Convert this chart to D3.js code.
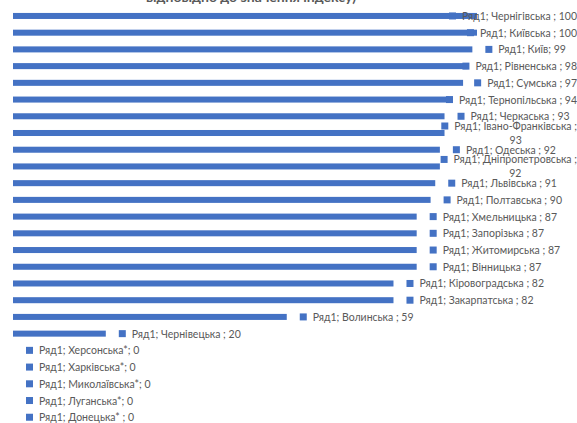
<!DOCTYPE html>
<html>
<head>
<meta charset="utf-8">
<script src="https://cdn.jsdelivr.net/npm/d3@7"></script>
<style>
  body { margin: 0; background: #fff; }
  text { font-family: Lato, "Open Sans", sans-serif; }
</style>
</head>
<body>
<svg id="chart" width="577" height="423"></svg>
<script>
// regions, top to bottom
const regions = ["Чернігівська", "Київська", "Київ", "Рівненська", "Сумська", "Тернопільська",
  "Черкаська", "Івано-Франківська", "Одеська", "Дніпропетровська", "Львівська", "Полтавська",
  "Хмельницька", "Запорізька", "Житомирська", "Вінницька", "Кіровоградська", "Закарпатська",
  "Волинська", "Чернівецька", "Херсонська*", "Харківська*", "Миколаївська*", "Луганська*", "Донецька*"]
const values = [100, 100, 99, 98, 97, 94, 93, 93, 92, 92, 91, 90, 87, 87, 87, 87, 82, 82, 59, 20, 0, 0, 0, 0, 0]
// separator before the value, as written in the labels
const seps = [" ; ", " ; ", "; ", " ; ", " ; ", " ; ", " ; ", " ; ", " ; ", " ; ", " ; ", " ; ",
  " ; ", " ; ", " ; ", " ; ", " ; ", " ; ", " ; ", " ; ", "; ", "; ", "; ", "; ", " ; "]
const seriesName = "Ряд1"
const title = "відповідно до значення індексу)"

const W = 577, H = 423
const blue = "#4472C4", grey = "#595959"

const svg = d3.select("#chart")

const x = d3.scaleLinear().domain([0, 100]).range([13, 477])
const y = d3.scaleBand().domain(regions).range([7.6, 425.6])
  .paddingInner(0.64).paddingOuter(0.32)

svg.append("text")
  .attr("x", 251).attr("y", 2)
  .attr("text-anchor", "middle")
  .attr("font-size", 14).attr("font-weight", "bold")
  .attr("fill", grey)
  .text(title)

svg.selectAll("rect.bar")
  .data(regions).enter().append("rect")
  .attr("class", "bar")
  .attr("x", x(0))
  .attr("y", d => y(d))
  .attr("height", y.bandwidth())
  .attr("width", (d, i) => x(values[i]) - x(0))
  .attr("fill", blue)

// data labels with legend key
const lab = svg.selectAll("g.lab")
  .data(regions).enter().append("g").attr("class", "lab")

lab.each(function(d, i) {
  const g = d3.select(this)
  const cy = y(d) + y.bandwidth() / 2
  const head = seriesName + "; " + d + seps[i].replace(/ $/, "")
  const full = seriesName + "; " + d + seps[i] + values[i]
  const t = g.append("text")
    .attr("font-size", 10.5).attr("fill", grey)
    .attr("dominant-baseline", "central")
  t.text(full)
  let w = t.node().getComputedTextLength()
  let lines = [full]
  if (w > 128) {
    lines = [head, String(values[i])]
    t.text(head)
    w = t.node().getComputedTextLength()
  }
  let mx = x(values[i]) + 13
  if (mx + 13 + w > W) mx = W - w - 13
  const tx = mx + 13
  const top = cy - (lines.length - 1) * 7
  g.append("rect")
    .attr("x", mx).attr("y", top - 3.5)
    .attr("width", 7).attr("height", 7)
    .attr("fill", blue)
  t.attr("x", tx).attr("y", top)
  if (lines.length > 1) {
    g.append("text")
      .attr("font-size", 10.5).attr("fill", grey)
      .attr("dominant-baseline", "central")
      .attr("text-anchor", "middle")
      .attr("x", tx + w / 2).attr("y", top + 14)
      .text(lines[1])
  }
})
</script>
</body>
</html>
